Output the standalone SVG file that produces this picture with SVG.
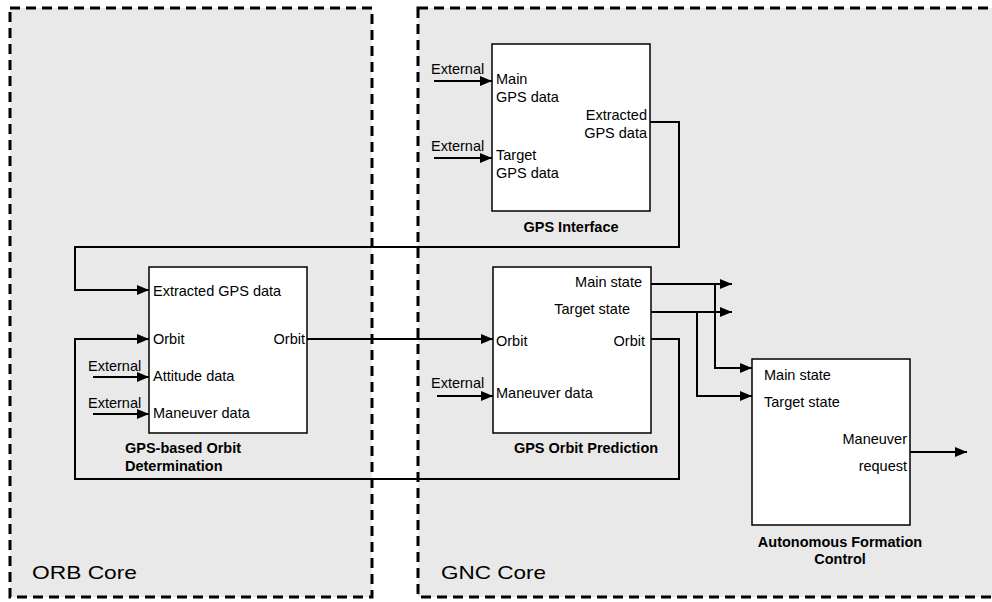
<svg xmlns="http://www.w3.org/2000/svg" width="992" height="602" viewBox="0 0 992 602">
<style>
.cont{fill:#e9e9e9;stroke:#000;stroke-width:3;stroke-dasharray:10 6}
.box{fill:#fff;stroke:#000;stroke-width:1.5}
.t{font-family:"Liberation Sans",Arial,sans-serif;font-size:14.5px;fill:#000}
.r{text-anchor:end}
.b{font-family:"Liberation Sans",Arial,sans-serif;font-size:14.5px;font-weight:bold;fill:#000}
.c{text-anchor:middle}
.big{font-family:"Liberation Sans",Arial,sans-serif;font-size:19px;fill:#000}
.ln{fill:none;stroke:#000;stroke-width:2}
.ar{fill:none;stroke:#000;stroke-width:2;marker-end:url(#ah)}
</style>
<defs>
<marker id="ah" markerUnits="userSpaceOnUse" markerWidth="12" markerHeight="10" refX="12" refY="5" orient="auto">
<path d="M0,0 L12,5 L0,10 z" fill="#000"/>
</marker>
</defs>
<g id="orb-core">
<rect class="cont" x="10" y="8" width="362" height="589"/>
<text class="big" x="32" y="579" textLength="105" lengthAdjust="spacingAndGlyphs">ORB Core</text>
</g>
<g id="gnc-core">
<rect class="cont" x="418" y="8" width="600" height="589"/>
<text class="big" x="441" y="579" textLength="105" lengthAdjust="spacingAndGlyphs">GNC Core</text>
</g>
<g id="connectors">
<path class="ar" d="M434,81 H492"/>
<path class="ar" d="M434,158 H492"/>
<path class="ar" d="M650,122 H679 V247 H75 V290 H149"/>
<path class="ar" d="M651,339 H679 V479 H75 V339 H149"/>
<path class="ar" d="M93,377 H149"/>
<path class="ar" d="M93,414 H149"/>
<path class="ar" d="M307,339 H493"/>
<path class="ar" d="M437,396 H493"/>
<path class="ar" d="M651,284 H732"/>
<path class="ar" d="M651,312 H732"/>
<path class="ar" d="M715,284 V368 H752"/>
<path class="ar" d="M697,312 V396 H752"/>
<path class="ar" d="M910,452 H967"/>
</g>
<g id="gps-interface">
<rect class="box" x="492" y="44" width="158" height="167"/>
<text class="t" x="431" y="74">External</text>
<text class="t" x="431" y="151">External</text>
<text class="t" x="496" y="84">Main</text>
<text class="t" x="496" y="102">GPS data</text>
<text class="t" x="496" y="160">Target</text>
<text class="t" x="496" y="178">GPS data</text>
<text class="t r" x="647" y="120">Extracted</text>
<text class="t r" x="647" y="138">GPS data</text>
<text class="b c" x="571" y="232">GPS Interface</text>
</g>
<g id="gps-orbit-determination">
<rect class="box" x="149" y="267" width="158" height="166"/>
<text class="t" x="153" y="296">Extracted GPS data</text>
<text class="t" x="153" y="344">Orbit</text>
<text class="t r" x="305" y="344">Orbit</text>
<text class="t" x="153" y="381">Attitude data</text>
<text class="t" x="153" y="418">Maneuver data</text>
<text class="t" x="88" y="371">External</text>
<text class="t" x="88" y="408">External</text>
<text class="b" x="125" y="453">GPS-based Orbit</text>
<text class="b" x="125" y="471">Determination</text>
</g>
<g id="gps-orbit-prediction">
<rect class="box" x="493" y="267" width="158" height="166"/>
<text class="t r" x="642" y="287">Main state</text>
<text class="t r" x="630" y="314">Target state</text>
<text class="t" x="496" y="346">Orbit</text>
<text class="t r" x="645" y="346">Orbit</text>
<text class="t" x="496" y="398">Maneuver data</text>
<text class="t" x="431" y="388">External</text>
<text class="b c" x="586" y="453">GPS Orbit Prediction</text>
</g>
<g id="autonomous-formation-control">
<rect class="box" x="752" y="359" width="158" height="166"/>
<text class="t" x="764" y="380">Main state</text>
<text class="t" x="764" y="407">Target state</text>
<text class="t r" x="907" y="444">Maneuver</text>
<text class="t r" x="907" y="471">request</text>
<text class="b c" x="840" y="547">Autonomous Formation</text>
<text class="b c" x="840" y="564">Control</text>
</g>
</svg>
